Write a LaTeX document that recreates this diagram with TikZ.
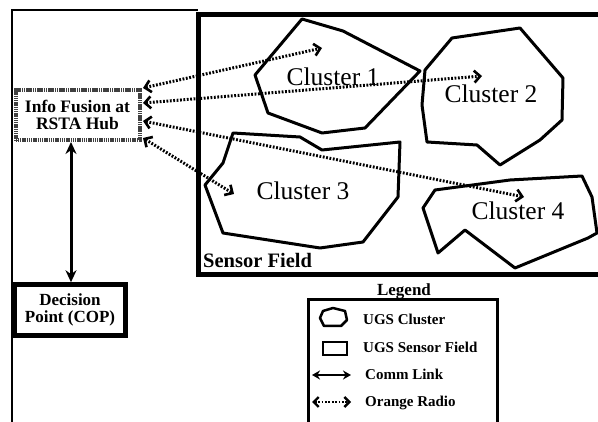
\documentclass[tikz,border=0pt]{standalone}
\usepackage{fontspec}
\setmainfont{Liberation Serif}
\usetikzlibrary{arrows.meta}
\tikzset{
  radiotip/.tip={Straight Barb[length=6pt,width=12pt,line width=2.6pt]},
  smallradiotip/.tip={Straight Barb[length=5pt,width=10pt,line width=2.4pt]},
  commtip/.tip={Stealth[length=12pt,width=11pt]},
  smallcommtip/.tip={Stealth[length=8pt,width=9pt]}
}
\begin{document}
\begin{tikzpicture}[x=1pt,y=-1pt,
  cluster/.style={draw=black, line width=3pt, line join=round},
  clabel/.style={font=\fontsize{25.5}{28}\selectfont, anchor=base, inner sep=0pt},
  radio/.style={line width=3pt, dash pattern=on 1.8pt off 1.6pt, radiotip-radiotip},
  comm/.style={line width=3pt, commtip-commtip},
  hubbox/.style={draw=black!75, line width=4pt, dash pattern=on 1.5pt off 0.7pt,
    minimum width=124pt, minimum height=50pt, align=center, inner sep=0pt,
    font=\bfseries\fontsize{17.5}{17}\selectfont},
  decbox/.style={draw=black, line width=4.5pt, minimum width=111pt, minimum height=51pt,
    align=center, inner sep=0pt, font=\bfseries\fontsize{17}{16.5}\selectfont},
  legtext/.style={anchor=base west, inner sep=0pt, font=\bfseries\fontsize{15}{15}\selectfont}
]
\useasboundingbox (0,0) rectangle (598,422);
\fill[white] (0,0) rectangle (598,422);

% outer frame
\draw[line width=1.8pt] (12,424) -- (12,10) -- (198,10);

% sensor field
\draw[line width=5pt] (602,15) -- (198,15) -- (198,275) -- (602,275);
\node[anchor=base west, inner sep=0pt, font=\bfseries\fontsize{20.5}{20}\selectfont]
  (sflabel) at (203,268) {Sensor Field};

% clusters
\draw[cluster] (302,19) -- (343,31) -- (420,71) -- (365,128) -- (322,133)
  -- (268,113) -- (255,75) -- cycle;
\draw[cluster] (425,70) -- (452,38) -- (520,28) -- (563,78) -- (562,120)
  -- (540,140) -- (500,165) -- (477,145) -- (427,142) -- (422,105) -- cycle;
\draw[cluster] (233,133) -- (300,137) -- (322,150) -- (400,142) -- (398,197)
  -- (363,242) -- (320,248) -- (223,233) -- (205,185) -- (223,163) -- cycle;
\draw[cluster] (435,190) -- (510,180) -- (582,176) -- (592,197) -- (597,233)
  -- (588,238) -- (515,268) -- (465,230) -- (438,253) -- (423,208) -- cycle;

\node[clabel] (c1) at (333,86) {Cluster 1};
\node[clabel] (c2) at (491,103) {Cluster 2};
\node[clabel] (c3) at (303,200) {Cluster 3};
\node[clabel] (c4) at (518,220) {Cluster 4};

% fusion hub and decision point
\node[hubbox] (hub) at (77.5,115) {Info Fusion at\\RSTA Hub};
\node[decbox] (dec) at (70,310) {Decision\\Point (COP)};
\draw[comm] (hub.south -| 71,0) -- (dec.north -| 71,0);

% radio links
\coordinate (s1) at (143,88);
\coordinate (s2) at (143,103);
\coordinate (s3) at (143,121);
\coordinate (s4) at (143,138);
\coordinate (r1) at (322,48);
\coordinate (r2) at (482,76);
\coordinate (r3) at (524,197);
\coordinate (r4) at (234,194);
\draw[radio] (s1) -- (r1);
\draw[radio] (s2) -- (r2);
\draw[radio] (s3) -- (r3);
\draw[radio] (s4) -- (r4);

% legend
\node[anchor=base, inner sep=0pt, font=\bfseries\fontsize{17}{17}\selectfont]
  (legtitle) at (404,296) {Legend};
\draw[line width=3pt] (308,424) -- (308,300) -- (497,300) -- (497,424);
\draw[line width=2.5pt, line join=round] (323,311) -- (333,308) -- (345,311) -- (347,320)
  -- (341,326) -- (324,326) -- (320,318) -- cycle;
\draw[line width=2pt] (323,342) rectangle (347,355);
\coordinate (la) at (312,375);
\coordinate (lb) at (351,375);
\draw[line width=2.5pt, smallcommtip-smallcommtip] (la) -- (lb);
\coordinate (lc) at (312,402);
\coordinate (ld) at (351,402);
\draw[line width=2.6pt, dash pattern=on 1.8pt off 1.6pt, smallradiotip-smallradiotip] (lc) -- (ld);
\node[legtext] (l1) at (363,325) {UGS Cluster};
\node[legtext] (l2) at (363,353) {UGS Sensor Field};
\node[legtext] (l3) at (365,380) {Comm Link};
\node[legtext] (l4) at (365,407) {Orange Radio};
\end{tikzpicture}
\end{document}
